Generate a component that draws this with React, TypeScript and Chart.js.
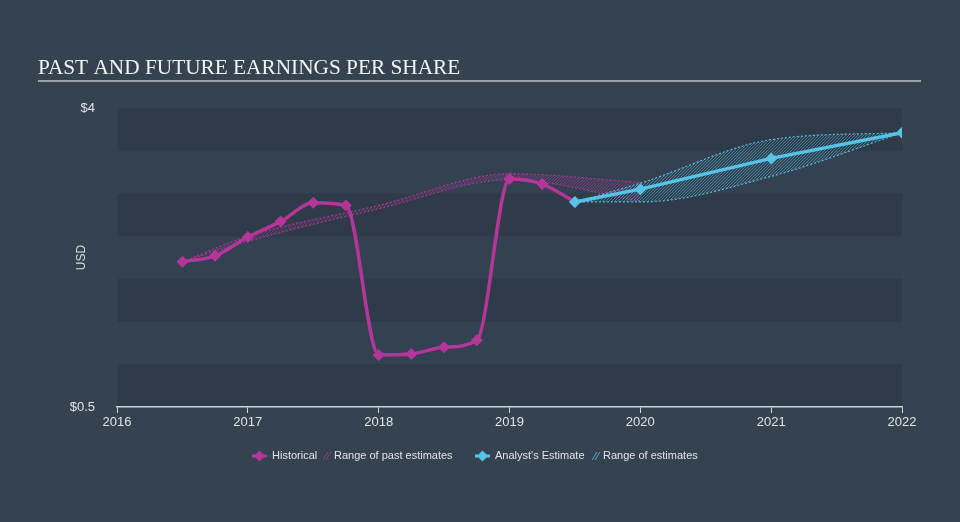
import React, { useEffect, useRef } from "react";
import { Chart, registerables } from "chart.js";

Chart.register(...registerables);

// ---- data ----
const histYears = [2016.5, 2016.75, 2017, 2017.25, 2017.5, 2017.75, 2018, 2018.25, 2018.5, 2018.75, 2019, 2019.25, 2019.5];
const histEps = [2.2, 2.27, 2.49, 2.67, 2.89, 2.86, 1.11, 1.12, 1.2, 1.28, 3.17, 3.11, 2.9];

const pastRangeYears = [2016.5, 2017, 2018, 2019, 2020];
const pastRangeHigh = [2.2, 2.5, 2.86, 3.23, 3.13];
const pastRangeLow = [2.2, 2.44, 2.82, 3.16, 2.91];

const estYears = [2019.5, 2020, 2021, 2022];
const estEps = [2.9, 3.05, 3.41, 3.71];
const estHigh = [2.9, 3.12, 3.63, 3.71];
const estLow = [2.9, 2.9, 3.2, 3.71];

const xTickValues = [2016, 2017, 2018, 2019, 2020, 2021, 2022];
const yTickValues = [0.5, 4];
const bandStep = 0.5;

const TITLE = "PAST AND FUTURE EARNINGS PER SHARE";
const Y_TITLE = "USD";
const legendItems = [
  { kind: "line", color: "#b4369b", label: "Historical" },
  { kind: "hatch", color: "#b4369b", label: "Range of past estimates" },
  { kind: "line", color: "#55c4e8", label: "Analyst's Estimate" },
  { kind: "hatch", color: "#55c4e8", label: "Range of estimates" },
];

const MAGENTA = "#b4369b";
const CYAN = "#55c4e8";
const SANS = '"Liberation Sans", Arial, sans-serif';

function makeHatch(color: string): CanvasPattern | string {
  const n = 3;
  const c = document.createElement("canvas");
  c.width = n;
  c.height = n;
  const g = c.getContext("2d");
  if (!g) return color;
  g.fillStyle = color;
  for (let i = 0; i < n; i++) g.fillRect(i, n - 1 - i, 1, 1);
  return g.createPattern(c, "repeat") || color;
}

const pts = (xs: number[], ys: number[]) => xs.map((x, i) => ({ x, y: ys[i] }));

const decorPlugin = {
  id: "decor",
  beforeDraw(chart: any) {
    const { ctx, chartArea, scales } = chart;
    ctx.save();
    ctx.fillStyle = "#35424f";
    ctx.fillRect(0, 0, chart.width, chart.height);
    const y = scales.y;
    let i = 0;
    for (let v = y.min; v < y.max - 1e-9; v += bandStep, i++) {
      const top = y.getPixelForValue(v + bandStep);
      const bot = y.getPixelForValue(v);
      ctx.fillStyle = i % 2 === 0 ? "#2f3b48" : "#344150";
      ctx.fillRect(chartArea.left, top, chartArea.right - chartArea.left, bot - top);
    }
    ctx.restore();
  },
  afterDraw(chart: any) {
    const { ctx, chartArea } = chart;
    ctx.save();
    // title
    ctx.fillStyle = "#f1f3f5";
    ctx.font = '21.3px "Liberation Serif", "Times New Roman", serif';
    ctx.textBaseline = "alphabetic";
    ctx.textAlign = "left";
    ctx.fillText(TITLE, 38, 74);
    ctx.strokeStyle = "#9aa2ab";
    ctx.lineWidth = 2;
    ctx.beginPath();
    ctx.moveTo(38, 81);
    ctx.lineTo(921, 81);
    ctx.stroke();

    // y title
    ctx.save();
    ctx.translate(82, (chartArea.top + chartArea.bottom) / 2);
    ctx.rotate(-Math.PI / 2);
    ctx.font = "12px " + SANS;
    ctx.fillStyle = "#d8dde2";
    ctx.textAlign = "center";
    ctx.textBaseline = "middle";
    ctx.fillText(Y_TITLE, 0, 0);
    ctx.restore();

    // legend
    const ly = 456;
    const starts = [252, 323, 475, 592];
    ctx.font = "11px " + SANS;
    ctx.textBaseline = "middle";
    ctx.textAlign = "left";
    legendItems.forEach((it, k) => {
      const x0 = starts[k];
      if (it.kind === "line") {
        ctx.strokeStyle = it.color;
        ctx.lineWidth = 3;
        ctx.beginPath();
        ctx.moveTo(x0, ly);
        ctx.lineTo(x0 + 15, ly);
        ctx.stroke();
        ctx.fillStyle = it.color;
        ctx.beginPath();
        ctx.moveTo(x0 + 7.5, ly - 5.5);
        ctx.lineTo(x0 + 13, ly);
        ctx.lineTo(x0 + 7.5, ly + 5.5);
        ctx.lineTo(x0 + 2, ly);
        ctx.closePath();
        ctx.fill();
        ctx.fillStyle = "#dfe3e7";
        ctx.fillText(it.label, x0 + 20, ly);
      } else {
        ctx.strokeStyle = it.color;
        ctx.globalAlpha = 0.8;
        ctx.lineWidth = 1;
        ctx.beginPath();
        ctx.moveTo(x0, ly + 4);
        ctx.lineTo(x0 + 5, ly - 4);
        ctx.moveTo(x0 + 3, ly + 4);
        ctx.lineTo(x0 + 8, ly - 4);
        ctx.stroke();
        ctx.globalAlpha = 1;
        ctx.fillStyle = "#dfe3e7";
        ctx.fillText(it.label, x0 + 11, ly);
      }
    });
    ctx.restore();
  },
};

export default function App() {
  const ref = useRef<HTMLCanvasElement | null>(null);

  useEffect(() => {
    if (!ref.current) return;
    const magHatch = makeHatch("rgba(180,54,155,0.6)");
    const cyanHatch = makeHatch("rgba(85,196,232,0.5)");
    const bandBase = {
      borderWidth: 1.2,
      borderDash: [2, 2],
      pointRadius: 0,
      pointHoverRadius: 0,
      cubicInterpolationMode: "monotone" as const,
    };
    const chart = new Chart(ref.current, {
      type: "line",
      data: {
        datasets: [
          { ...bandBase, label: "pastLow", data: pts(pastRangeYears, pastRangeLow), borderColor: "rgba(180,54,155,0.85)", fill: false, order: 3 },
          { ...bandBase, label: "pastHigh", data: pts(pastRangeYears, pastRangeHigh), borderColor: "rgba(180,54,155,0.85)", backgroundColor: magHatch as any, fill: "-1", order: 3 },
          { ...bandBase, label: "estLow", data: pts(estYears, estLow), borderColor: "rgba(85,196,232,0.9)", fill: false, order: 2 },
          { ...bandBase, label: "estHigh", data: pts(estYears, estHigh), borderColor: "rgba(85,196,232,0.9)", backgroundColor: cyanHatch as any, fill: "-1", order: 2 },
          {
            label: "Historical",
            data: pts(histYears, histEps),
            borderColor: MAGENTA,
            backgroundColor: MAGENTA,
            borderWidth: 3.5,
            pointStyle: "rectRot",
            pointRadius: 6,
            pointBorderWidth: 0,
            pointBackgroundColor: MAGENTA,
            cubicInterpolationMode: "monotone",
            fill: false,
            order: 1,
          },
          {
            label: "Analyst's Estimate",
            data: pts(estYears, estEps),
            borderColor: CYAN,
            backgroundColor: CYAN,
            borderWidth: 3.5,
            pointStyle: "rectRot",
            pointRadius: 6,
            pointBorderWidth: 0,
            pointBackgroundColor: CYAN,
            fill: false,
            order: 0,
          },
        ],
      },
      options: {
        responsive: false,
        animation: false,
        events: [],
        layout: { padding: { top: 108, right: 58, left: 0, bottom: 0 } },
        plugins: {
          legend: { display: false },
          tooltip: { enabled: false },
          title: { display: false },
        },
        scales: {
          x: {
            type: "linear",
            min: 2016,
            max: 2022,
            afterBuildTicks: (s: any) => {
              s.ticks = xTickValues.map((v) => ({ value: v }));
            },
            afterFit: (s: any) => {
              s.height = 115;
            },
            ticks: {
              callback: (v: any) => String(v),
              color: "#dfe3e7",
              font: { size: 13, family: SANS },
              padding: 2,
              maxRotation: 0,
              autoSkip: false,
            },
            grid: { drawOnChartArea: false, drawTicks: true, tickLength: 6, color: "#cdd3d9" },
            border: { display: true, color: "#cdd3d9", width: 1.5 },
          },
          y: {
            type: "linear",
            min: 0.5,
            max: 4,
            afterBuildTicks: (s: any) => {
              s.ticks = yTickValues.map((v) => ({ value: v }));
            },
            afterFit: (s: any) => {
              s.width = 117;
            },
            ticks: {
              callback: (v: any) => "$" + v,
              color: "#dfe3e7",
              font: { size: 13, family: SANS },
              padding: 14,
            },
            grid: { display: false },
            border: { display: false },
          },
        },
      },
      plugins: [decorPlugin],
    });
    return () => chart.destroy();
  }, []);

  return (
    <div style={{ position: "fixed", left: 0, top: 0, width: 960, height: 522 }}>
      <canvas ref={ref} width={960} height={522} style={{ display: "block" }} />
    </div>
  );
}
